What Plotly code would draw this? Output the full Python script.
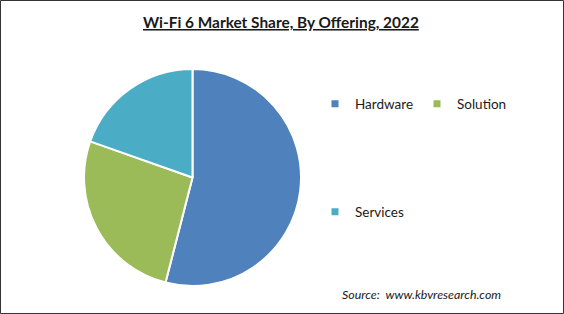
import plotly.graph_objects as go

categories = ["Hardware", "Solution", "Services"]
shares = [54.0, 26.4, 19.6]
colors = ["#4F81BD", "#9BBB59", "#4BACC6"]
title_text = "Wi-Fi 6 Market Share, By Offering, 2022"
source_text = "Source:  www.kbvresearch.com"

W, H = 564, 314
cx, cy, r = 192.5, 177.5, 108.5

fig = go.Figure()
fig.add_trace(go.Pie(
    labels=categories, values=shares, sort=False, direction="clockwise",
    rotation=0, textinfo="none", hoverinfo="label+percent",
    marker=dict(colors=colors, line=dict(color="white", width=2)),
    showlegend=False,
    domain=dict(x=[(cx - r) / W, (cx + r) / W], y=[(H - cy - r) / H, (H - cy + r) / H]),
))

legend_map = {"Hardware": "legend", "Solution": "legend", "Services": "legend2"}
for cat, col in zip(categories, colors):
    fig.add_trace(go.Scatter(
        x=[None], y=[None], mode="markers", name=cat,
        marker=dict(symbol="square", size=7, color=col),
        legend=legend_map[cat], showlegend=True,
    ))

fig.update_layout(
    width=W, height=H, margin=dict(l=0, r=0, t=0, b=0),
    paper_bgcolor="white", plot_bgcolor="white",
    xaxis=dict(visible=False), yaxis=dict(visible=False),
    font=dict(family="Lato", color="#1a1a1a"),
    legend=dict(orientation="h", x=315 / W, y=1 - 104 / H, xanchor="left", yanchor="middle",
                font=dict(size=13.5, color="#1a1a1a"), entrywidth=57, entrywidthmode="pixels",
                bgcolor="rgba(0,0,0,0)", itemclick=False),
    legend2=dict(orientation="h", x=315 / W, y=1 - 212 / H, xanchor="left", yanchor="middle",
                 font=dict(size=13.5, color="#1a1a1a"),
                 bgcolor="rgba(0,0,0,0)", itemclick=False),
    annotations=[
        dict(text="<b><u>" + title_text + "</u></b>", x=281 / W, y=1 - 22 / H, xref="paper", yref="paper",
             showarrow=False, font=dict(size=15.4, family="Lato", color="#1a1a1a"), xanchor="center", yanchor="middle"),
        dict(text="<i>" + source_text + "</i>", x=340 / W, y=1 - 294 / H, xref="paper", yref="paper",
             showarrow=False, font=dict(size=12.4, family="Lato", color="#1a1a1a"), xanchor="left", yanchor="middle"),
    ],
    shapes=[dict(type="rect", xref="paper", yref="paper", x0=0.0009, y0=0.0016, x1=0.9991, y1=0.9984,
                 line=dict(color="#333333", width=1))],
)

fig.write_html("out.html")
